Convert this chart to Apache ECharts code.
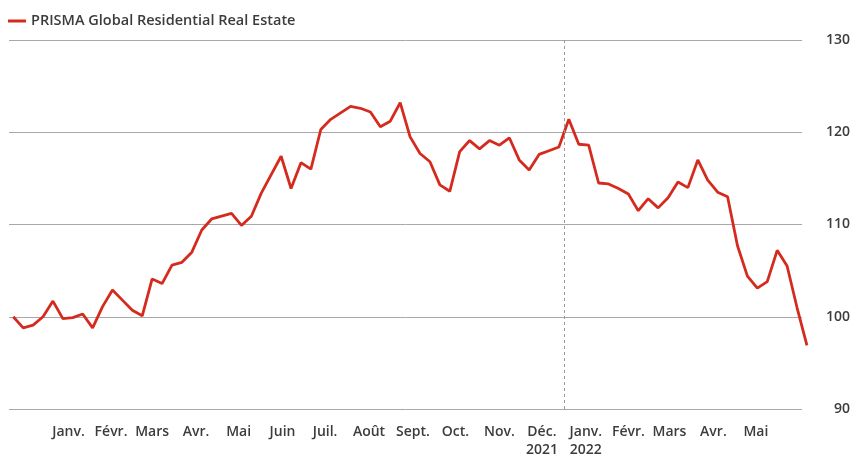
<!DOCTYPE html>
<html>
<head>
<meta charset="utf-8">
<script src="https://cdn.jsdelivr.net/npm/echarts@6/dist/echarts.min.js"></script>
<style>
html, body { margin: 0; padding: 0; background: #fff; }
#chart { width: 852px; height: 456px; }
</style>
</head>
<body>
<div id="chart"></div>
<script>
var seriesName = 'PRISMA Global Residential Real Estate';

// weekly index values, first week 8 Dec 2020
var firstWeek = [2020, 11, 8];
var indexValues = [
    100.0, 98.8, 99.1, 100.0, 101.7, 99.8, 99.9, 100.3, 98.8, 101.1,
    102.9, 101.8, 100.7, 100.1, 104.1, 103.6, 105.6, 105.9, 107.0, 109.4,
    110.6, 110.9, 111.2, 109.9, 110.9, 113.4, 115.4, 117.4, 113.9, 116.7,
    116.0, 120.3, 121.4, 122.1, 122.8, 122.6, 122.2, 120.6, 121.2, 123.2,
    119.5, 117.7, 116.8, 114.3, 113.6, 117.9, 119.1, 118.2, 119.1, 118.6,
    119.4, 117.0, 115.9, 117.6, 118.0, 118.4, 121.4, 118.7, 118.6, 114.5,
    114.4, 113.9, 113.3, 111.5, 112.8, 111.8, 112.9, 114.6, 114.0, 117.0,
    114.8, 113.5, 113.0, 107.7, 104.4, 103.1, 103.8, 107.2, 105.5, 101.0,
    96.9
];

// axis labels sit in the middle of each month (Jan 2021 .. May 2022)
var monthNames = ['Janv.', 'Févr.', 'Mars', 'Avr.', 'Mai', 'Juin', 'Juil.', 'Août', 'Sept.', 'Oct.', 'Nov.', 'Déc.',
                  'Janv.', 'Févr.', 'Mars', 'Avr.', 'Mai'];
var yearUnder = {11: '2021', 12: '2022'};
var yTicks = [90, 100, 110, 120, 130];

var weekData = [];
for (var i = 0; i < indexValues.length; i++) {
    var d = new Date(firstWeek[0], firstWeek[1], firstWeek[2] + 7 * i);
    weekData.push([d.getTime(), indexValues[i]]);
}

var labelPos = [];
var labelText = {};
for (var m = 0; m < monthNames.length; m++) {
    var t = new Date(2021, m, m % 12 == 1 ? 15 : 16).getTime();
    labelPos.push(t);
    labelText[t] = monthNames[m] + (yearUnder[m] ? '\n' + yearUnder[m] : '');
}

var xStart = new Date(2020, 11, 5).getTime();
var xEndGrid = new Date(2022, 5, 17, 12).getTime();   // end of the gridlines
var xEndLine = new Date(2022, 5, 21, 1).getTime();    // line runs a few px past them

var textStyle = {
    fontFamily: 'Open Sans',
    fontSize: 14,
    fontWeight: 600,
    color: '#3c3c3c'
};

var chart = echarts.init(document.getElementById('chart'));
var option = {
    animation: false,
    legend: {
        data: [seriesName],
        left: 8,
        top: 13,
        padding: 0,
        icon: 'rect',
        itemWidth: 18,
        itemHeight: 3,
        textStyle: Object.assign({}, textStyle, {fontSize: 14.5, lineHeight: 16})
    },
    grid: [
        {left: 9, right: 50, top: 40, bottom: 47, containLabel: false, outerBoundsMode: 'none'},
        {left: 9, right: 45, top: 40, bottom: 47, containLabel: false, outerBoundsMode: 'none'}
    ],
    xAxis: [
        {
            type: 'value',
            gridIndex: 0,
            scale: true,
            min: xStart,
            max: xEndGrid,
            axisLine: {show: false},
            axisTick: {show: false},
            splitLine: {show: false},
            axisLabel: Object.assign({
                customValues: labelPos,
                margin: 14,
                lineHeight: 18,
                hideOverlap: false,
                formatter: function (value) {
                    return labelText[value] || '';
                }
            }, textStyle)
        },
        {
            type: 'value',
            gridIndex: 1,
            scale: true,
            min: xStart,
            max: xEndLine,
            show: false
        }
    ],
    yAxis: [
        {
            type: 'value',
            gridIndex: 0,
            position: 'right',
            min: yTicks[0],
            max: yTicks[yTicks.length - 1],
            interval: 10,
            axisLine: {show: false},
            axisTick: {show: false},
            splitLine: {lineStyle: {color: '#a8a8a8', width: 1}},
            axisLabel: Object.assign({align: 'right', margin: 48}, textStyle)
        },
        {
            type: 'value',
            gridIndex: 1,
            min: yTicks[0],
            max: yTicks[yTicks.length - 1],
            interval: 10,
            show: false,
            splitLine: {show: false}
        }
    ],
    series: [
        {
            name: seriesName,
            type: 'line',
            xAxisIndex: 1,
            yAxisIndex: 1,
            data: weekData,
            symbol: 'none',
            lineStyle: {color: '#d52b1e', width: 2.8},
            itemStyle: {color: '#d52b1e'},
            markLine: {
                silent: true,
                symbol: ['none', 'none'],
                label: {show: false},
                lineStyle: {color: '#9a9a9a', width: 1, type: [3, 3]},
                data: [{xAxis: new Date(2022, 0, 1).getTime()}]
            }
        }
    ]
};
chart.setOption(option);
</script>
</body>
</html>
